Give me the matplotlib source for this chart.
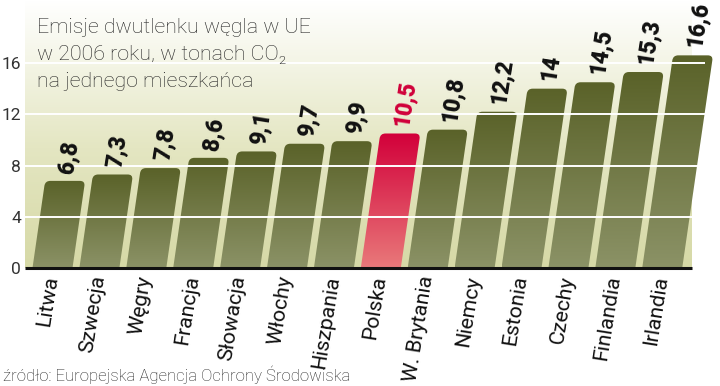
import numpy as np
import matplotlib
matplotlib.use('Agg')
import matplotlib.pyplot as plt
from matplotlib.path import Path
from matplotlib.patches import PathPatch
from matplotlib.colors import LinearSegmentedColormap

countries = ['Litwa', 'Szwecja', 'Węgry', 'Francja', 'Słowacja', 'Włochy', 'Hiszpania',
             'Polska', 'W. Brytania', 'Niemcy', 'Estonia', 'Czechy', 'Finlandia', 'Irlandia']
values = [6.8, 7.3, 7.8, 8.6, 9.1, 9.7, 9.9, 10.5, 10.8, 12.2, 14, 14.5, 15.3, 16.6]
labels = ['6,8', '7,3', '7,8', '8,6', '9,1', '9,7', '9,9', '10,5', '10,8', '12,2', '14', '14,5', '15,3', '16,6']
highlight = 'Polska'
yticks = [0, 4, 8, 12, 16]

title_lines = ['Emisje dwutlenku węgla w UE', 'w 2006 roku, w tonach CO₂', 'na jednego mieszkańca']
source = 'źródło: Europejska Agencja Ochrony Środowiska'

FONT = ['Roboto', 'DejaVu Sans']

green_cm = LinearSegmentedColormap.from_list('g', ['#8b9266', '#5a6229'])
red_cm = LinearSegmentedColormap.from_list('r', ['#e9797a', '#d2003a'])
bg_cm = LinearSegmentedColormap.from_list('bg', [(0, '#d6d9a6'), (0.45, '#e4e6c2'),
                                                 (0.75, '#f3f4e4'), (1, '#ffffff')])

fig = plt.figure(figsize=(7.2, 3.86), dpi=100)
ax = fig.add_axes([25 / 720, 118 / 386, 695 / 720, 268 / 386])
ymax = 268 / 12.81
x0, x1 = -0.586, 13.635   # plotting area (pixels 25..692)

# background gradient
grad = np.linspace(0, 1, 256).reshape(-1, 1)
ax.imshow(grad, cmap=bg_cm, origin='lower', aspect='auto',
          extent=[x0, x1, 0, ymax], zorder=0)

w = 0.853       # bar width in index units
s = 0.0396      # slant: x shift per y unit
rx, ry = 0.11, 0.4

for i, (name, v) in enumerate(zip(countries, values)):
    xl, xr = i - w / 2, i + w / 2
    verts = [(xl, 0), (xr, 0),
             (xr + s * (v - ry), v - ry), (xr + s * v, v), (xr + s * v - rx, v),
             (xl + s * v + rx, v), (xl + s * v, v), (xl + s * (v - ry), v - ry),
             (xl, 0)]
    codes = [Path.MOVETO, Path.LINETO,
             Path.LINETO, Path.CURVE3, Path.CURVE3,
             Path.LINETO, Path.CURVE3, Path.CURVE3,
             Path.CLOSEPOLY]
    patch = PathPatch(Path(verts, codes), facecolor='none', edgecolor='none')
    ax.add_patch(patch)
    cm = red_cm if name == highlight else green_cm
    im = ax.imshow(np.linspace(0, 1, 128).reshape(-1, 1), cmap=cm, origin='lower',
                   aspect='auto', extent=[xl, xr + s * v, 0, v], zorder=2)
    im.set_clip_path(patch)

    color = '#d0003a' if name == highlight else '#111111'
    ax.annotate(labels[i], xy=(i + s * v, v), xytext=(1.0, 5.5), textcoords='offset points',
                rotation=81, rotation_mode='anchor', ha='left', va='center',
                fontsize=16.5, fontweight='black', color=color, family=FONT, zorder=4,
                annotation_clip=False)
    ax.annotate(name, xy=(i, 0), xytext=(-0.5, -5.5), textcoords='offset points',
                rotation=81, rotation_mode='anchor', ha='right', va='center',
                fontsize=15.3, color='#111111', family=FONT, annotation_clip=False)

ax.set_xlim(x0, 14.232)
ax.set_ylim(0, ymax)
ax.hlines(yticks[1:], x0, 13.91, color='white', lw=1.4, zorder=3)
ax.hlines(0, x0, x1, color='#111111', lw=2.2, zorder=5, clip_on=False)

for sp in ax.spines.values():
    sp.set_visible(False)
ax.set_xticks([])
ax.set_yticks(yticks)
ax.set_yticklabels([str(t) for t in yticks], fontsize=12.5, color='#333333', family=FONT)
ax.tick_params(axis='y', length=0, pad=3)

for k, line in enumerate(title_lines):
    fig.text(37 / 720, 1 - (33 + 27 * k) / 386, line, ha='left', va='baseline', fontsize=15.4,
             color='#222222', family=FONT, fontweight='light')
fig.text(3 / 720, 1 - 381 / 386, source, ha='left', va='baseline', fontsize=12.1,
         color='#222222', family=FONT, fontweight='light')

fig.savefig('out.png', dpi=100)
